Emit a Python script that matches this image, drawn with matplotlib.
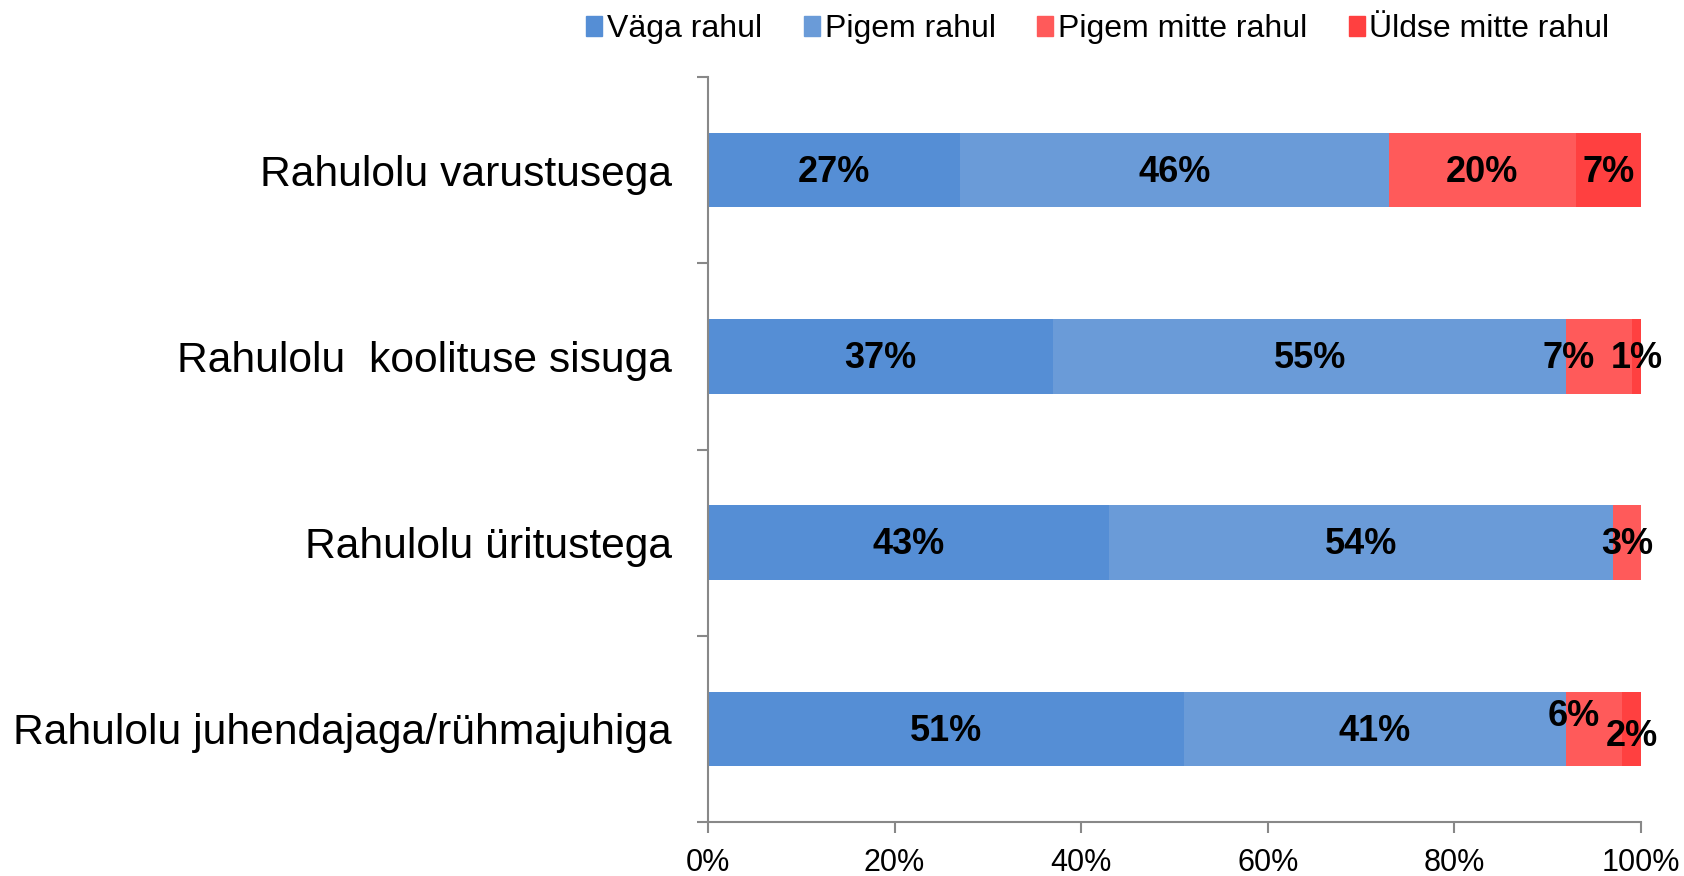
import matplotlib
matplotlib.use("Agg")
import matplotlib.pyplot as plt
from matplotlib.ticker import FixedLocator, PercentFormatter
from matplotlib.patches import Patch

categories = ["Rahulolu varustusega", "Rahulolu  koolituse sisuga",
              "Rahulolu üritustega", "Rahulolu juhendajaga/rühmajuhiga"]
series_names = ["Väga rahul", "Pigem rahul", "Pigem mitte rahul", "Üldse mitte rahul"]
vaga = [27, 37, 43, 51]
pigem = [46, 55, 54, 41]
pigem_mitte = [20, 7, 3, 6]
uldse = [7, 1, 0, 2]
colors = ["#558ed5", "#6a9bd8", "#ff5a5a", "#ff4040"]
xticks = [0, 20, 40, 60, 80, 100]

plt.rcParams['font.family'] = ['Liberation Sans', 'DejaVu Sans']
fig = plt.figure(figsize=(16.84, 8.76), dpi=100)
ax = fig.add_axes([708/1684, 1 - 822/876, (1641-708)/1684, (822-77)/876])

# small label nudges (x in data %, y in category units) to mimic the reference
nudge = {(2, 1): (-3.3, 0), (3, 1): (0.0, 0), (2, 3): (-2.2, -0.08), (3, 3): (0, 0.03)}

series = [vaga, pigem, pigem_mitte, uldse]
ypos = list(range(len(categories)))
left = [0]*len(categories)
for si, vals in enumerate(series):
    ax.barh(ypos, vals, left=left, height=0.4, color=colors[si], label=series_names[si])
    for i, v in enumerate(vals):
        if v > 0:
            dx, dy = nudge.get((si, i), (0, 0))
            ax.text(left[i] + v/2 + dx, i + dy + 0.012, f"{v}%", ha="center", va="center",
                    fontsize=26, fontweight="bold", color="black")
    left = [l + v for l, v in zip(left, vals)]

ax.set_xlim(0, 100)
ax.set_ylim(3.5, -0.5)
ax.set_yticks(ypos)
ax.set_yticklabels(categories, fontsize=30.7)
ax.tick_params(axis='y', which='major', length=0, pad=26)
ax.yaxis.set_minor_locator(FixedLocator([-0.5, 0.5, 1.5, 2.5, 3.5]))
ax.tick_params(axis='y', which='minor', length=8, color="#888888", width=1.5)
ax.set_xticks(xticks)
ax.xaxis.set_major_formatter(PercentFormatter(decimals=0))
ax.tick_params(axis='x', length=8, color="#888888", width=1.5, labelsize=22, pad=11)
for s in ["top", "right"]:
    ax.spines[s].set_visible(False)
for s in ["left", "bottom"]:
    ax.spines[s].set_color("#888888")
    ax.spines[s].set_linewidth(1.5)

handles = [Patch(color=c) for c in colors]
fig.legend(handles, series_names, loc="center", bbox_to_anchor=(1098/1684, 1 - 29/876),
           ncol=4, frameon=False, fontsize=23, handlelength=0.5, handleheight=0.6,
           handletextpad=0.15, columnspacing=1.3)

fig.savefig("out.png", dpi=100)
